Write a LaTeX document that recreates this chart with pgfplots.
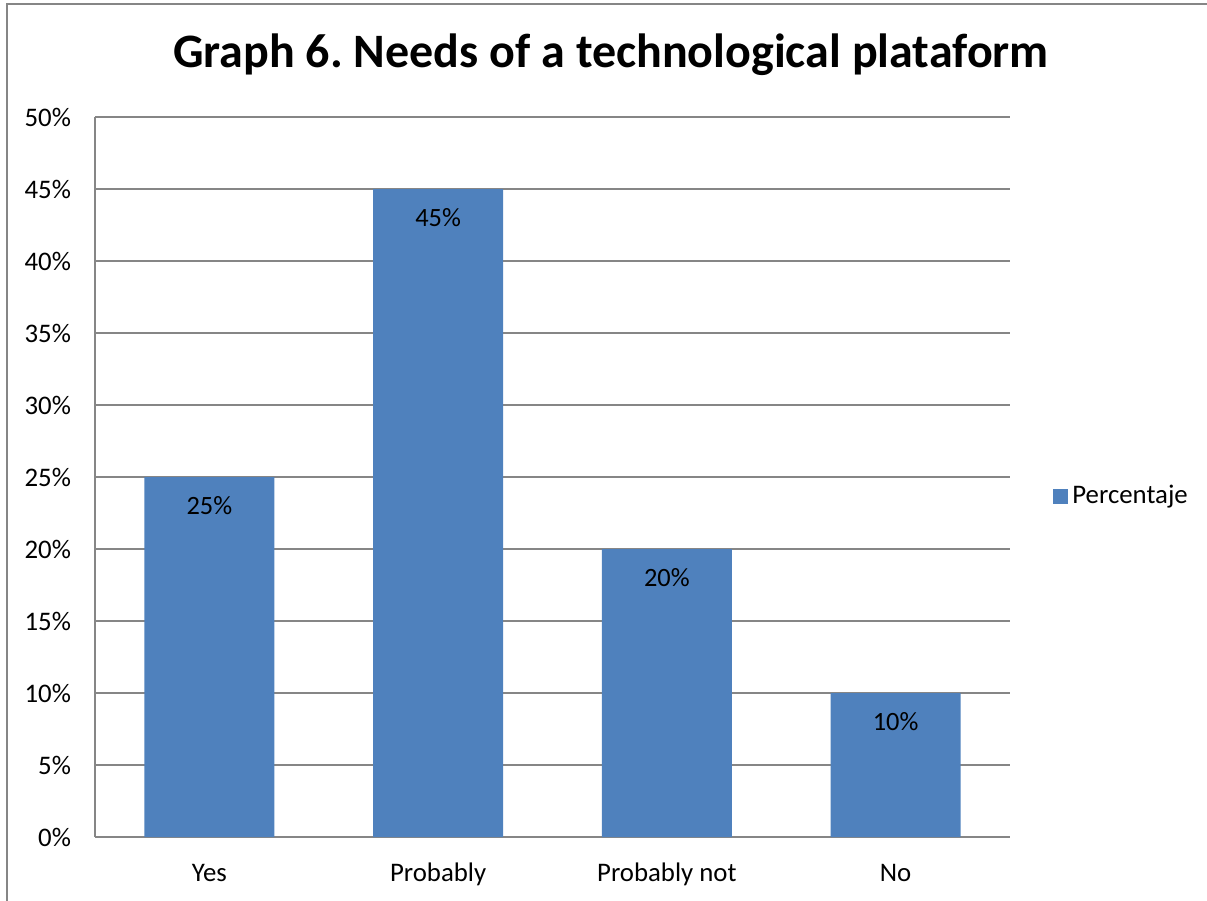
\documentclass[border=0pt]{standalone}
\usepackage{pgfplots}
\pgfplotsset{compat=1.18}
\usepackage{fontspec}
\setmainfont{Carlito}
\definecolor{barblue}{HTML}{4F81BD}
\definecolor{axgray}{HTML}{868686}
\begin{document}
\frenchspacing
\begin{tikzpicture}
\path[use as bounding box] (0,0) rectangle (603.5pt,450.5pt);
\draw[axgray, line width=0.9pt] (3.5pt,0) -- (3.5pt,448.5pt) -- (603.5pt,448.5pt);
\node[font=\fontsize{24}{28}\selectfont\bfseries] at (305.5pt,423pt) {Graph 6.\ Needs of a technological plataform};
\begin{axis}[
  at={(47.5pt,32pt)}, anchor=south west,
  scale only axis, width=457.5pt, height=360pt,
  xmin=-0.5, xmax=3.5, ymin=0, ymax=50,
  xtick={0,1,2,3},
  xticklabels={Yes, Probably, Probably not, No},
  ytick={0,5,...,50},
  yticklabel={\pgfmathprintnumber{\tick}\%},
  /pgf/number format/assume math mode=true,
  ymajorgrids,
  grid style={axgray, line width=0.6pt},
  axis x line*=bottom, axis y line*=left,
  axis line style={axgray, line width=0.8pt, -},
  major tick length=0pt,
  tick label style={font=\fontsize{13.4}{15}\selectfont},
  yticklabel style={xshift=-8.5pt},
  xticklabel style={anchor=base, yshift=-22pt},
  legend style={at={(1.047,0.4736)}, anchor=west, draw=none, fill=none,
    font=\fontsize{13.4}{15}\selectfont, inner sep=0pt},
  legend cell align=left,
]
\addplot[ybar, bar width=65pt, fill=barblue, draw=none,
  nodes near coords={\pgfmathprintnumber{\pgfplotspointmeta}\%},
  nodes near coords align={below},
  every node near coord/.append style={font=\fontsize{13.2}{15}\selectfont, anchor=center, yshift=-14.5pt},
  legend image code/.code={\fill[barblue] (0pt,-3.75pt) rectangle (7.5pt,3.75pt);}
] coordinates {(0,25) (1,45) (2,20) (3,10)};
\addlegendentry{Percentaje}
\end{axis}
\end{tikzpicture}
\end{document}
